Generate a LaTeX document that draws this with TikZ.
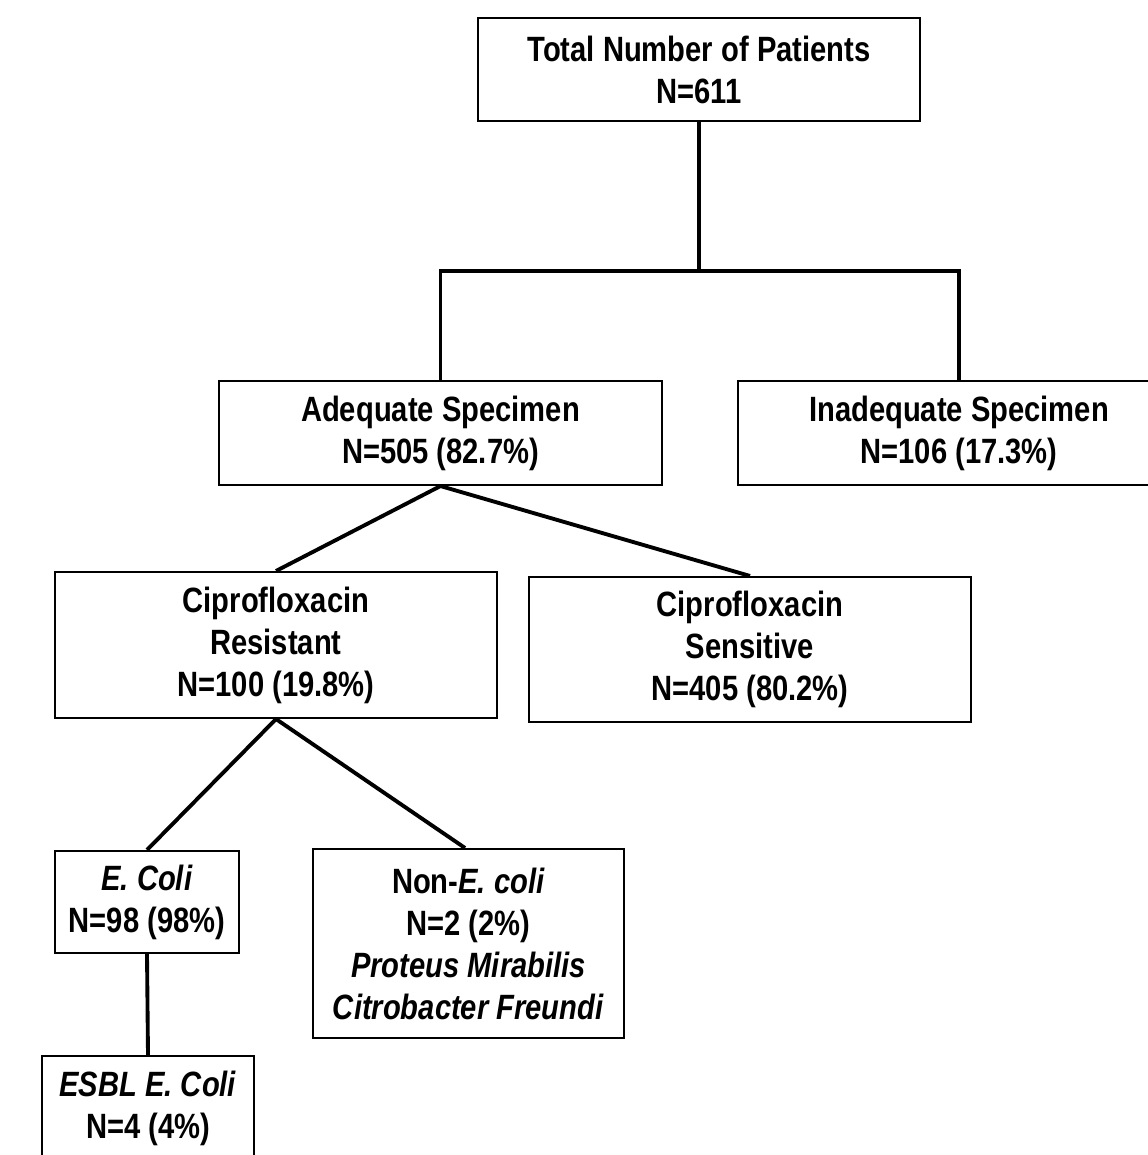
\documentclass[tikz,border=0pt]{standalone}
\usepackage{fontspec}
\setmainfont{Liberation Sans}[FakeStretch=0.83]
\usepackage{tikz}

\begin{document}
\begin{tikzpicture}[x = 0.02cm, y = -0.02cm,
    box/.style = {draw, line width = 1.2pt, align = center, inner sep = 0pt,
        font = \fontsize{20}{23.9}\selectfont\bfseries},
    link/.style = {line width = 2.2pt}]
    \useasboundingbox (0, 0) rectangle (1148, 1155);

    %% boxes
    \node[box, minimum width = 8.84cm, minimum height = 2.06cm] (total)
        at (699, 69.5) {Total Number of Patients\\N=611};
    \node[box, minimum width = 8.86cm, minimum height = 2.08cm] (adequate)
        at (440.5, 433) {Adequate Specimen\\N=505 (82.7\%)};
    \node[box, minimum width = 8.84cm, minimum height = 2.08cm] (inadequate)
        at (959, 433) {Inadequate Specimen\\N=106 (17.3\%)};
    \node[box, minimum width = 8.84cm, minimum height = 2.92cm] (resistant)
        at (276, 645) {Ciprofloxacin\\Resistant\\N=100 (19.8\%)};
    \node[box, minimum width = 8.84cm, minimum height = 2.90cm] (sensitive)
        at (750, 649.5) {Ciprofloxacin\\Sensitive\\N=405 (80.2\%)};
    \node[box, minimum width = 3.68cm, minimum height = 2.04cm] (ecoli)
        at (147, 902) {\textit{E. Coli}\\N=98 (98\%)};
    \node[box, minimum width = 6.22cm, minimum height = 3.78cm] (nonecoli)
        at (468.5, 943.5) {Non-\textit{E. coli}\\N=2 (2\%)\\
        \textit{Proteus Mirabilis}\\\textit{Citrobacter Freundi}};
    \node[box, minimum width = 4.24cm, minimum height = 2.08cm] (esbl)
        at (148, 1108) {\textit{ESBL E. Coli}\\N=4 (4\%)};

    %% connectors
    \coordinate (split) at (699, 271);
    \draw[link] (total.south) -- (split);
    \draw[link] (adequate.north) |- (split) -| (inadequate.north);
    \draw[link] (adequate.south) -- (resistant.north);
    \draw[link] (adequate.south) -- (sensitive.north);
    \draw[link] (resistant.south) -- (ecoli.north);
    \draw[link] (resistant.south) -- ([xshift = -0.07cm]nonecoli.north);
    \draw[link] (ecoli.south) -- (esbl.north);
\end{tikzpicture}
\end{document}
